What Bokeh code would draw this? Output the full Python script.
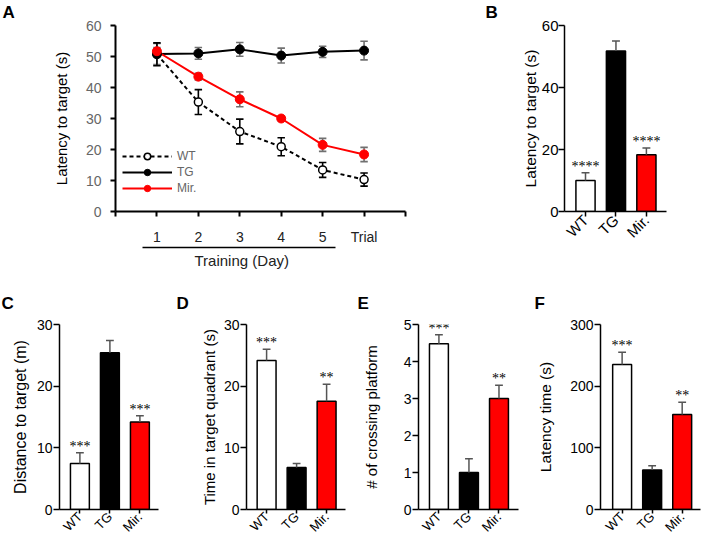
from math import pi
from bokeh.plotting import figure
from bokeh.layouts import column, row
from bokeh.models import (Range1d, FixedTicker, LinearAxis, LabelSet, Title,
                          ColumnDataSource, Legend, LegendItem)
from bokeh.embed import file_html
from bokeh.resources import INLINE

FONT = "Liberation Sans"

# ---------------- Panel A data ----------------
days = [1, 2, 3, 4, 5, 6]
day_labels = ["1", "2", "3", "4", "5", "Trial"]
wt_mean = [50.7, 35.3, 25.8, 20.9, 13.4, 10.3]
wt_err = [3.7, 4.0, 4.0, 2.9, 2.4, 2.1]
tg_mean = [50.8, 51.0, 52.3, 50.3, 51.5, 51.9]
tg_err = [3.4, 1.9, 2.2, 2.4, 1.8, 3.0]
mir_mean = [51.7, 43.5, 36.2, 30.0, 21.5, 18.4]
mir_err = [1.2, 1.1, 2.4, 0.8, 2.1, 2.3]
a_yticks = [0, 10, 20, 30, 40, 50, 60]

# ---------------- Bar panels data ----------------
groups = ["WT", "TG", "Mir."]
bar_colors = ["white", "black", "#ff0000"]

b_mean = [10.0, 51.8, 18.3]
b_err = [2.5, 3.2, 2.2]
b_sig = ["****", "", "****"]
b_yticks = [0, 20, 40, 60]

c_mean = [7.46, 25.4, 14.2]
c_err = [1.75, 2.0, 1.0]
c_sig = ["***", "", "***"]
c_yticks = [0, 10, 20, 30]

d_mean = [24.15, 6.8, 17.55]
d_err = [1.85, 0.65, 2.75]
d_sig = ["***", "", "**"]
d_yticks = [0, 10, 20, 30]

e_mean = [4.48, 1.0, 3.0]
e_err = [0.24, 0.37, 0.36]
e_sig = ["***", "", "**"]
e_yticks = [0, 1, 2, 3, 4, 5]

f_mean = [235, 64, 154]
f_err = [20, 7, 20]
f_sig = ["***", "", "**"]
f_yticks = [0, 100, 200, 300]


def style_axis(ax, size, color="black", standoff=2, tick_out=5, lw=1.5):
    ax.axis_line_color = "black"
    ax.axis_line_width = lw
    ax.major_tick_line_color = "black"
    ax.major_tick_line_width = lw
    ax.major_tick_in = 0
    ax.major_tick_out = tick_out
    ax.minor_tick_line_color = None
    ax.minor_tick_out = 0
    ax.major_label_text_font = FONT
    ax.major_label_text_font_size = size
    ax.major_label_text_color = color
    ax.major_label_standoff = standoff
    ax.axis_label_text_font = FONT
    ax.axis_label_text_font_style = "normal"
    ax.axis_label_text_color = "black"


def letter(p, txt, offset, standoff):
    p.title.text = txt
    p.title.align = "left"
    p.title.vertical_align = "top"
    p.title.offset = offset
    p.title.standoff = standoff
    p.title.text_font = FONT
    p.title.text_font_size = "17px"
    p.title.text_font_style = "bold"
    p.title.text_color = "black"


def base_fig(xr, yr, fw, fh, mbl, mbr, mbt, mbb):
    p = figure(frame_width=fw, frame_height=fh, min_border_left=mbl, min_border_right=mbr,
               min_border_top=mbt, min_border_bottom=mbb, x_range=Range1d(*xr),
               y_range=Range1d(*yr), output_backend="svg", toolbar_location=None)
    p.xgrid.visible = False
    p.ygrid.visible = False
    p.outline_line_color = None
    p.background_fill_color = "white"
    p.border_fill_color = "white"
    return p


# ---------------- Panel A ----------------
pA = base_fig((0, 7), (0, 60), 290, 186, 115, 65, 25, 71)
xa = pA.xaxis[0]
style_axis(xa, "14px", color="#222222", standoff=12, tick_out=5, lw=2)
xa.ticker = FixedTicker(ticks=[0] + days + [7])
ov = {0: "", 7: ""}
for d, lab in zip(days, day_labels):
    ov[d] = lab
xa.major_label_overrides = ov

ya = pA.yaxis[0]
style_axis(ya, "14px", color="#666666", standoff=9, tick_out=5, lw=2)
ya.ticker = FixedTicker(ticks=a_yticks)
ya.axis_label = "Latency to target (s)"
ya.axis_label_text_font_size = "15px"
ya.axis_label_standoff = 13

under = LinearAxis(bounds=(0.66, 5.3), ticker=FixedTicker(ticks=[]))
style_axis(under, "14px", tick_out=0, lw=1.5)
pA.add_layout(under, "below")

pA.add_layout(Title(text="Training (Day)", align="left", offset=79, standoff=4,
                    text_font=FONT, text_font_size="15px", text_font_style="normal",
                    text_color="#222222"), "below")

wt_line = pA.line(days, wt_mean, line_color="black", line_width=2, line_dash="4 3")
tg_line = pA.line(days, tg_mean, line_color="black", line_width=2)
mir_line = pA.line(days, mir_mean, line_color="#ff0000", line_width=2)

for mean, err, col in [(tg_mean, tg_err, "#707070"), (mir_mean, mir_err, "#707070"),
                       (wt_mean, wt_err, "black")]:
    lo = [m - e for m, e in zip(mean, err)]
    hi = [m + e for m, e in zip(mean, err)]
    xl = [d - 0.09 for d in days]
    xr_ = [d + 0.09 for d in days]
    pA.segment(x0=days, y0=lo, x1=days, y1=hi, line_color=col, line_width=1.6)
    pA.segment(x0=xl, y0=hi, x1=xr_, y1=hi, line_color=col, line_width=1.6)
    pA.segment(x0=xl, y0=lo, x1=xr_, y1=lo, line_color=col, line_width=1.6)

wt_pts = pA.scatter(days, wt_mean, size=8, fill_color="white", line_color="black", line_width=1.5)
tg_pts = pA.scatter(days, tg_mean, size=9, fill_color="black", line_color="black")
mir_pts = pA.scatter(days, mir_mean, size=9, fill_color="#ff0000", line_color="#ff0000")

legend = Legend(items=[LegendItem(label="WT", renderers=[wt_line, wt_pts]),
                       LegendItem(label="TG", renderers=[tg_line, tg_pts]),
                       LegendItem(label="Mir.", renderers=[mir_line, mir_pts])],
                location=(7, 15), glyph_width=50, glyph_height=16, label_height=16,
                spacing=0, padding=0, margin=0, border_line_color=None,
                background_fill_alpha=0, label_text_font=FONT, label_text_font_size="12px",
                label_text_color="#666666", label_standoff=5)
pA.add_layout(legend)
letter(pA, "A", -113, 3)


# ---------------- Bar panels ----------------
def bar_panel(mean, err, sig, yticks, ylabel, xr, fw, fh, mbl, mbr, mbt, mbb,
              ytick_size, ytick_standoff, ylab_size, ylab_standoff, xlab_size, xtick_out,
              let, let_off, let_standoff):
    xs = [1, 2, 3]
    p = base_fig(xr, (0, yticks[-1]), fw, fh, mbl, mbr, mbt, mbb)
    p.vbar(x=xs, top=mean, bottom=0, width=0.63, fill_color=bar_colors,
           line_color="black", line_width=1.5)
    hi = [m + e for m, e in zip(mean, err)]
    xl = [x - 0.13 for x in xs]
    xrr = [x + 0.13 for x in xs]
    p.segment(x0=xs, y0=mean, x1=xs, y1=hi, line_color="#555555", line_width=1.5)
    p.segment(x0=xl, y0=hi, x1=xrr, y1=hi, line_color="#555555", line_width=1.5)
    src = ColumnDataSource(dict(x=xs, y=hi, t=sig))
    p.add_layout(LabelSet(x="x", y="y", text="t", source=src, text_align="center",
                          text_baseline="bottom", text_font=FONT, text_font_size="14px",
                          y_offset=-1, text_color="black"))
    xa = p.xaxis[0]
    style_axis(xa, xlab_size, standoff=1, tick_out=xtick_out)
    xa.ticker = FixedTicker(ticks=xs)
    xa.major_label_overrides = {1: groups[0], 2: groups[1], 3: groups[2]}
    xa.major_label_orientation = pi / 4
    ya = p.yaxis[0]
    style_axis(ya, ytick_size, standoff=ytick_standoff, tick_out=6)
    ya.ticker = FixedTicker(ticks=yticks)
    ya.axis_label = ylabel
    ya.axis_label_text_font_size = ylab_size
    ya.axis_label_standoff = ylab_standoff
    letter(p, let, let_off, let_standoff)
    return p


pB = bar_panel(b_mean, b_err, b_sig, b_yticks, "Latency to target (s)", (0.31, 3.66),
               102, 186, 94, 30, 25, 71, "15px", 0, "15.5px", 0, "15px", 5, "B", -79, 3)

pC = bar_panel(c_mean, c_err, c_sig, c_yticks, "Distance to target (m)", (0.32, 3.62),
               99, 185, 59, 18, 42, 32, "14px", 1, "16px", 5, "13px", 4, "C", -58, 19)
pD = bar_panel(d_mean, d_err, d_sig, d_yticks, "Time in target quadrant (s)", (0.33, 3.63),
               99, 185, 70, 12, 42, 32, "14px", 1, "15px", 3, "13px", 4, "D", -70, 19)
pE = bar_panel(e_mean, e_err, e_sig, e_yticks, "# of crossing platform", (0.32, 3.65),
               100, 185, 61, 16, 42, 32, "14px", 1, "15px", 21, "13px", 4, "E", -61, 19)
pF = bar_panel(f_mean, f_err, f_sig, f_yticks, "Latency time (s)", (0.28, 3.61),
               100, 185, 66, 1, 42, 32, "14px", 1, "15.5px", 13, "13px", 4, "F", -66, 19)

layout = column(row(pA, pB, spacing=0), row(pC, pD, pE, pF, spacing=0), spacing=0)

open("out.html", "w").write(file_html(layout, INLINE, "chart"))
